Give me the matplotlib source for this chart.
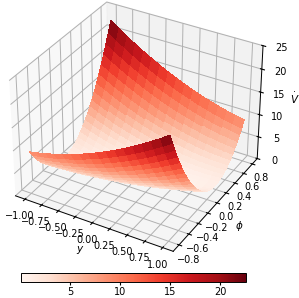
import numpy as np
import matplotlib
matplotlib.use("Agg")
import matplotlib.pyplot as plt

y_values = [-1.0, -0.875, -0.75, -0.625, -0.5, -0.375, -0.25, -0.125, 0.0,
            0.125, 0.25, 0.375, 0.5, 0.625, 0.75, 0.875, 1.0]
phi_values = [-0.80, -0.75, -0.70, -0.65, -0.60, -0.55, -0.50, -0.45, -0.40, -0.35, -0.30,
              -0.25, -0.20, -0.15, -0.10, -0.05, 0.00, 0.05, 0.10, 0.15, 0.20, 0.25, 0.30,
              0.35, 0.40, 0.45, 0.50, 0.55, 0.60, 0.65, 0.70, 0.75, 0.80]
# Vdot: one row per phi, one column per y
vdot = [
    [9.31, 9.69, 10.13, 10.63, 11.19, 11.81, 12.49, 13.23, 14.03, 14.89, 15.81, 16.79, 17.82, 18.92, 20.08, 21.29, 22.56],
    [8.02, 8.35, 8.74, 9.19, 9.70, 10.27, 10.90, 11.59, 12.33, 13.14, 14.01, 14.93, 15.92, 16.96, 18.07, 19.23, 20.45],
    [6.84, 7.12, 7.46, 7.86, 8.32, 8.84, 9.41, 10.05, 10.74, 11.50, 12.31, 13.19, 14.12, 15.11, 16.17, 17.28, 18.45],
    [5.78, 6.01, 6.29, 6.64, 7.05, 7.51, 8.04, 8.62, 9.26, 9.97, 10.73, 11.55, 12.43, 13.37, 14.38, 15.43, 16.55],
    [4.82, 5.00, 5.24, 5.53, 5.88, 6.30, 6.77, 7.30, 7.89, 8.54, 9.26, 10.03, 10.86, 11.75, 12.69, 13.70, 14.77],
    [3.98, 4.10, 4.28, 4.53, 4.83, 5.19, 5.61, 6.09, 6.63, 7.23, 7.89, 8.61, 9.39, 10.22, 11.12, 12.08, 13.09],
    [3.24, 3.31, 3.44, 3.64, 3.89, 4.20, 4.57, 4.99, 5.48, 6.03, 6.64, 7.30, 8.03, 8.81, 9.66, 10.56, 11.53],
    [2.61, 2.63, 2.71, 2.85, 3.05, 3.31, 3.63, 4.00, 4.44, 4.94, 5.49, 6.11, 6.78, 7.51, 8.31, 9.16, 10.07],
    [2.10, 2.06, 2.09, 2.18, 2.33, 2.53, 2.80, 3.12, 3.51, 3.95, 4.46, 5.02, 5.64, 6.32, 7.07, 7.87, 8.73],
    [1.69, 1.60, 1.58, 1.62, 1.71, 1.87, 2.08, 2.35, 2.69, 3.08, 3.53, 4.04, 4.61, 5.24, 5.93, 6.68, 7.49],
    [1.39, 1.25, 1.18, 1.16, 1.21, 1.31, 1.47, 1.69, 1.97, 2.31, 2.71, 3.17, 3.69, 4.27, 4.91, 5.61, 6.36],
    [1.20, 1.01, 0.89, 0.82, 0.81, 0.86, 0.97, 1.14, 1.37, 1.66, 2.01, 2.42, 2.88, 3.41, 4.00, 4.64, 5.35],
    [1.12, 0.88, 0.70, 0.58, 0.52, 0.52, 0.58, 0.70, 0.88, 1.11, 1.41, 1.77, 2.18, 2.66, 3.19, 3.78, 4.44],
    [1.15, 0.86, 0.63, 0.46, 0.35, 0.30, 0.30, 0.37, 0.49, 0.68, 0.92, 1.23, 1.59, 2.01, 2.50, 3.04, 3.64],
    [1.29, 0.95, 0.67, 0.45, 0.28, 0.18, 0.13, 0.15, 0.22, 0.35, 0.55, 0.80, 1.11, 1.48, 1.91, 2.40, 2.95],
    [1.54, 1.15, 0.81, 0.54, 0.32, 0.17, 0.07, 0.03, 0.05, 0.14, 0.28, 0.48, 0.74, 1.06, 1.44, 1.87, 2.37],
    [1.90, 1.46, 1.07, 0.74, 0.48, 0.27, 0.12, 0.03, 0.00, 0.03, 0.12, 0.27, 0.48, 0.74, 1.07, 1.46, 1.90],
    [2.37, 1.87, 1.44, 1.06, 0.74, 0.48, 0.28, 0.14, 0.05, 0.03, 0.07, 0.17, 0.32, 0.54, 0.81, 1.15, 1.54],
    [2.95, 2.40, 1.91, 1.48, 1.11, 0.80, 0.55, 0.35, 0.22, 0.15, 0.13, 0.18, 0.28, 0.45, 0.67, 0.95, 1.29],
    [3.64, 3.04, 2.50, 2.01, 1.59, 1.23, 0.92, 0.68, 0.49, 0.37, 0.30, 0.30, 0.35, 0.46, 0.63, 0.86, 1.15],
    [4.44, 3.78, 3.19, 2.66, 2.18, 1.77, 1.41, 1.11, 0.88, 0.70, 0.58, 0.52, 0.52, 0.58, 0.70, 0.88, 1.12],
    [5.35, 4.64, 4.00, 3.41, 2.88, 2.42, 2.01, 1.66, 1.37, 1.14, 0.97, 0.86, 0.81, 0.82, 0.89, 1.01, 1.20],
    [6.36, 5.61, 4.91, 4.27, 3.69, 3.17, 2.71, 2.31, 1.97, 1.69, 1.47, 1.31, 1.21, 1.16, 1.18, 1.25, 1.39],
    [7.49, 6.68, 5.93, 5.24, 4.61, 4.04, 3.53, 3.08, 2.69, 2.35, 2.08, 1.87, 1.71, 1.62, 1.58, 1.60, 1.69],
    [8.73, 7.87, 7.07, 6.32, 5.64, 5.02, 4.46, 3.95, 3.51, 3.12, 2.80, 2.53, 2.33, 2.18, 2.09, 2.06, 2.10],
    [10.07, 9.16, 8.31, 7.51, 6.78, 6.11, 5.49, 4.94, 4.44, 4.00, 3.63, 3.31, 3.05, 2.85, 2.71, 2.63, 2.61],
    [11.53, 10.56, 9.66, 8.81, 8.03, 7.30, 6.64, 6.03, 5.48, 4.99, 4.57, 4.20, 3.89, 3.64, 3.44, 3.31, 3.24],
    [13.09, 12.08, 11.12, 10.22, 9.39, 8.61, 7.89, 7.23, 6.63, 6.09, 5.61, 5.19, 4.83, 4.53, 4.28, 4.10, 3.98],
    [14.77, 13.70, 12.69, 11.75, 10.86, 10.03, 9.26, 8.54, 7.89, 7.30, 6.77, 6.30, 5.88, 5.53, 5.24, 5.00, 4.82],
    [16.55, 15.43, 14.38, 13.37, 12.43, 11.55, 10.73, 9.97, 9.26, 8.62, 8.04, 7.51, 7.05, 6.64, 6.29, 6.01, 5.78],
    [18.45, 17.28, 16.17, 15.11, 14.12, 13.19, 12.31, 11.50, 10.74, 10.05, 9.41, 8.84, 8.32, 7.86, 7.46, 7.12, 6.84],
    [20.45, 19.23, 18.07, 16.96, 15.92, 14.93, 14.01, 13.14, 12.33, 11.59, 10.90, 10.27, 9.70, 9.19, 8.74, 8.35, 8.02],
    [22.56, 21.29, 20.08, 18.92, 17.82, 16.79, 15.81, 14.89, 14.03, 13.23, 12.49, 11.81, 11.19, 10.63, 10.13, 9.69, 9.31],
]
x_label = r"$y$"
y_label = r"$\phi$"
z_label = r"$\dot{V}$"
x_ticks = [-1.0, -0.75, -0.5, -0.25, 0.0, 0.25, 0.5, 0.75, 1.0]
x_tick_labels = ["\u22121.00", "\u22120.75", "\u22120.50", "\u22120.25", "0.00", "0.25", "0.50", "0.75", "1.00"]
y_ticks = [-0.8, -0.6, -0.4, -0.2, 0.0, 0.2, 0.4, 0.6, 0.8]
y_tick_labels = ["\u22120.8", "\u22120.6", "\u22120.4", "\u22120.2", "0.0", "0.2", "0.4", "0.6", "0.8"]
z_ticks = [0, 5, 10, 15, 20, 25]
cbar_ticks = [5, 10, 15, 20]

plt.rcParams["font.size"] = 7
plt.rcParams["axes.linewidth"] = 0.7
plt.rcParams["grid.linewidth"] = 0.7

Y, PHI = np.meshgrid(y_values, phi_values)
Z = np.array(vdot)

fig = plt.figure(figsize=(2.99, 2.98), dpi=100)
ax = fig.add_axes([-0.022, 0.108, 0.945, 0.945], projection="3d")
ax.view_init(elev=33, azim=-60)
surf = ax.plot_surface(Y, PHI, Z, cmap="Reds", vmin=0.05, vmax=22.6,
                       linewidth=0, antialiased=False)
ax.set_zlim(0, 25)
ax.set_xticks(x_ticks, x_tick_labels)
ax.set_yticks(y_ticks, y_tick_labels)
ax.set_zticks(z_ticks)
for axis in (ax.xaxis, ax.yaxis, ax.zaxis):
    axis.set_rotate_label(False)
ax.set_xlabel(x_label, labelpad=-7, rotation=0, fontsize=7.5)
ax.set_ylabel(y_label, labelpad=-6, rotation=0, fontsize=7.5)
ax.set_zlabel(z_label, labelpad=-5.5, rotation=0, fontsize=7.5)
ax.tick_params(axis="x", pad=-2, labelsize=7)
ax.tick_params(axis="y", pad=-2, labelsize=7)
ax.tick_params(axis="z", pad=0, labelsize=7)

cax = fig.add_axes([21 / 299, 16 / 298, 225 / 299, 9 / 298])
cb = fig.colorbar(surf, cax=cax, orientation="horizontal")
cb.set_ticks(cbar_ticks)
cax.tick_params(labelsize=7, length=2, pad=1.5)

fig.savefig("out.png", dpi=100)
